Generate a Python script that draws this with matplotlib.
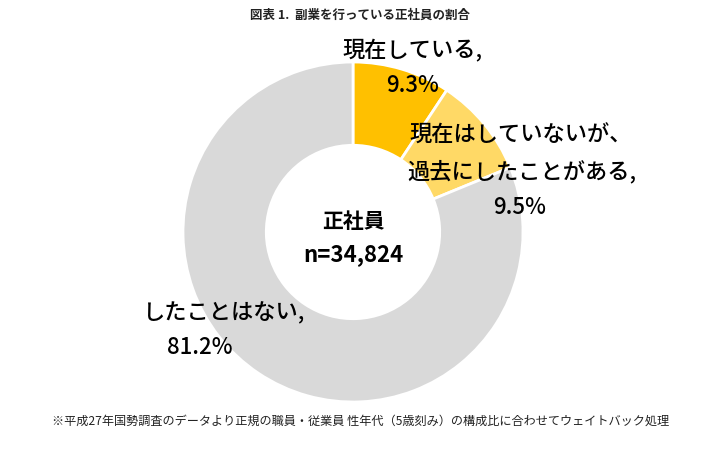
import matplotlib
matplotlib.use("Agg")
import matplotlib.pyplot as plt

plt.rcParams['font.family'] = ['Noto Sans CJK JP', 'DejaVu Sans']

title = "図表 1.  副業を行っている正社員の割合"
categories = ["現在している,", "現在はしていないが、\n過去にしたことがある,", "したことはない,"]
values = [9.3, 9.5, 81.2]
colors = ["#FFC000", "#FFD966", "#D9D9D9"]
center_label = "正社員"
center_n = "n=34,824"
footnote = "※平成27年国勢調査のデータより正規の職員・従業員 性年代（5歳刻み）の構成比に合わせてウェイトバック処理"

W, H = 719, 453
fig = plt.figure(figsize=(W / 100, H / 100), dpi=100)
ax = fig.add_axes([0, 0, 1, 1])
cx, cy, R = 353, 232, 170

ax.pie(values, colors=colors, startangle=90, counterclock=False, radius=1,
       wedgeprops=dict(width=0.49, edgecolor='white', linewidth=2))

ax.set_xlim(-cx / R, (W - cx) / R)
ax.set_ylim(-(H - cy) / R, cy / R)
ax.set_aspect('equal')
ax.axis('off')

def P(x, y):
    return ((x - cx) / R, (cy - y) / R)

fig.text(0.5, 1 - 15 / H, title, ha='center', va='center', fontsize=9, fontweight='bold', color='#222222')

ax.text(*P(353, 222), center_label, ha='center', va='center', fontsize=15, fontweight='bold')
ax.text(*P(353, 255), center_n, ha='center', va='center', fontsize=16, fontweight='bold')

lab_fs = 16
lw = 'medium'
ax.text(*P(342, 50), categories[0], ha='left', va='center', fontsize=lab_fs, fontweight=lw)
ax.text(*P(412, 85), f"{values[0]}%", ha='center', va='center', fontsize=lab_fs, fontweight=lw)
l1, l2 = categories[1].split("\n")
ax.text(*P(409, 135), l1, ha='left', va='center', fontsize=lab_fs, fontweight=lw)
ax.text(*P(407, 172), l2, ha='left', va='center', fontsize=lab_fs, fontweight=lw)
ax.text(*P(520, 207), f"{values[1]}%", ha='center', va='center', fontsize=lab_fs, fontweight=lw)
ax.text(*P(143, 313), categories[2], ha='left', va='center', fontsize=lab_fs, fontweight=lw)
ax.text(*P(200, 347), f"{values[2]}%", ha='center', va='center', fontsize=lab_fs, fontweight=lw)

fig.text(52 / W, 1 - 421 / H, footnote, ha='left', va='center', fontsize=8.75, color='#222222')

fig.savefig("out.png", dpi=100)
